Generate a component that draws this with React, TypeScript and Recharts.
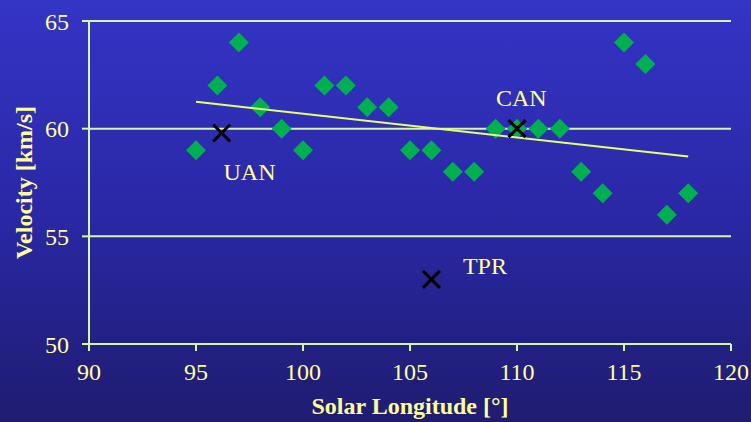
import React from "react";
import {
  ScatterChart,
  Scatter,
  XAxis,
  YAxis,
  CartesianGrid,
} from "recharts";

// Meteor velocities (diamonds)
const longitudes = [95, 96, 97, 98, 99, 100, 101, 102, 103, 104, 105, 106, 107, 108, 109, 110, 111, 112, 113, 114, 115, 116, 117, 118];
const velocities = [59, 62, 64, 61, 60, 59, 62, 62, 61, 61, 59, 59, 58, 58, 60, 60, 60, 60, 58, 57, 64, 63, 56, 57];

// Named shower radiants (crosses)
const showerNames = ["UAN", "CAN", "TPR"];
const showerLongitudes = [96.2, 110, 106];
const showerVelocities = [59.8, 60, 53];
// label anchor points (data coordinates)
const labelLongitudes = [97.5, 110.2, 108.5];
const labelVelocities = [58, 61.4, 53.6];

// Linear trend
const trendLongitudes = [95, 118];
const trendVelocities = [61.25, 58.71];

const xTicks = [90, 95, 100, 105, 110, 115, 120];
const yTicks = [50, 55, 60, 65];

const points = longitudes.map((x, i) => ({ x, y: velocities[i] }));
const showers = showerNames.map((name, i) => ({ name, x: showerLongitudes[i], y: showerVelocities[i] }));
const showerLabels = showerNames.map((name, i) => ({ name, x: labelLongitudes[i], y: labelVelocities[i] }));
const trend = trendLongitudes.map((x, i) => ({ x, y: trendVelocities[i] }));

const AXIS = "#d4f7a0";
const TEXT = "#ffff99";
const FONT = "'Liberation Serif', 'Times New Roman', serif";

const Diamond = (props: any) => {
  const { cx, cy } = props;
  const r = 10;
  return (
    <polygon
      points={`${cx},${cy - r} ${cx + r},${cy} ${cx},${cy + r} ${cx - r},${cy}`}
      fill="#00b050"
    />
  );
};

const Cross = (props: any) => {
  const { cx, cy } = props;
  const r = 8.5;
  return (
    <g stroke="#000" strokeWidth={3}>
      <line x1={cx - r} y1={cy - r} x2={cx + r} y2={cy + r} />
      <line x1={cx - r} y1={cy + r} x2={cx + r} y2={cy - r} />
    </g>
  );
};

const LabelShape = (props: any) => {
  const { cx, cy, payload } = props;
  return (
    <text x={cx} y={cy} dy="0.33em" textAnchor="middle" fill={TEXT} fontFamily={FONT} fontSize={24}>
      {payload.name}
    </text>
  );
};

const NoShape = () => null;

export default function App() {
  return (
    <div
      style={{
        position: "absolute",
        left: 0,
        top: 0,
        width: 751,
        height: 422,
        background: "linear-gradient(to bottom, #3434c6 0%, #2a28a6 50%, #1f1c70 100%)",
      }}
    >
      <ScatterChart width={751} height={422} margin={{ top: 21, right: 20, left: 0, bottom: 0 }}>
        <CartesianGrid horizontal vertical={false} stroke={AXIS} strokeWidth={2} />
        <XAxis
          type="number"
          dataKey="x"
          domain={[90, 120]}
          ticks={xTicks}
          interval={0}
          height={78}
          stroke={AXIS}
          strokeWidth={2}
          axisLine={{ stroke: AXIS, strokeWidth: 2 }}
          tickLine={{ stroke: AXIS, strokeWidth: 2 }}
          tickSize={7}
          tickMargin={12}
          tick={{ fill: TEXT, fontFamily: FONT, fontSize: 24 }}
          label={{
            value: "Solar Longitude [°]",
            position: "insideBottom",
            offset: 8,
            fill: TEXT,
            fontFamily: FONT,
            fontSize: 24,
            fontWeight: "bold",
          }}
        />
        <YAxis
          type="number"
          dataKey="y"
          domain={[50, 65]}
          ticks={yTicks}
          interval={0}
          width={89}
          axisLine={{ stroke: AXIS, strokeWidth: 2 }}
          tickLine={{ stroke: AXIS, strokeWidth: 2 }}
          tickSize={7}
          tickMargin={13}
          tick={{ fill: TEXT, fontFamily: FONT, fontSize: 24 }}
          label={{
            content: (p: any) => {
              const vb = p.viewBox || { x: 0, y: 21, height: 323 };
              const cx = 32;
              const cy = vb.y + vb.height / 2;
              return (
                <text
                  x={cx}
                  y={cy}
                  transform={`rotate(-90, ${cx}, ${cy})`}
                  textAnchor="middle"
                  fill={TEXT}
                  fontFamily={FONT}
                  fontSize={24}
                  fontWeight="bold"
                >
                  Velocity [km/s]
                </text>
              );
            },
          }}
        />
        <Scatter data={points} shape={<Diamond />} isAnimationActive={false} />
        <Scatter
          data={trend}
          shape={<NoShape />}
          line={{ stroke: "#e4ff70", strokeWidth: 2 }}
          isAnimationActive={false}
        />
        <Scatter data={showers} shape={<Cross />} isAnimationActive={false} />
        <Scatter data={showerLabels} shape={<LabelShape />} isAnimationActive={false} />
      </ScatterChart>
    </div>
  );
}
